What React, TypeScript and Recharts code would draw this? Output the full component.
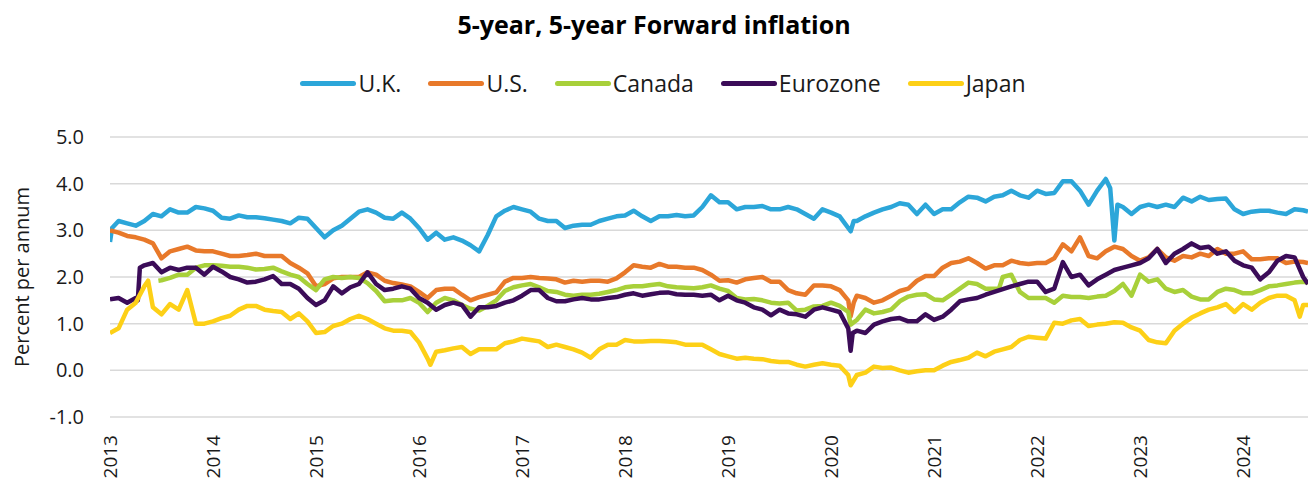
import { CartesianGrid, Line, LineChart, XAxis, YAxis } from "recharts";

const UK_COLOR = "#2ca6d9";
const US_COLOR = "#e8792a";
const CA_COLOR = "#a8d03a";
const EZ_COLOR = "#3b0c58";
const JP_COLOR = "#fdd017";
const GRID = "#d9d9d9";
const TEXT = "#1a1a1a";
const FONT = "'Open Sans', 'Noto Sans', sans-serif";

// monthly observations, Jan 2013 .. Aug 2024, then the last print
const END_DATE = 2024.63;
const YEAR_TICKS = [2013, 2014, 2015, 2016, 2017, 2018, 2019, 2020, 2021, 2022, 2023, 2024];
const Y_TICKS = [-1, 0, 1, 2, 3, 4, 5];

const UK = [
  2.75, 3.2, 3.15, 3.1, 3.2, 3.35, 3.3, 3.45, 3.38, 3.38, 3.5, 3.47,
  3.42, 3.27, 3.25, 3.32, 3.28, 3.28, 3.26, 3.23, 3.2, 3.15, 3.27, 3.25,
  3.05, 2.85, 3.0, 3.1, 3.25, 3.4, 3.45, 3.38, 3.27, 3.25, 3.38, 3.25,
  3.05, 2.8, 2.95, 2.8, 2.85, 2.78, 2.68, 2.55, 2.9, 3.3, 3.42, 3.5,
  3.45, 3.4, 3.25, 3.2, 3.2, 3.05, 3.1, 3.12, 3.12, 3.2, 3.25, 3.3,
  3.32, 3.42, 3.3, 3.2, 3.3, 3.3, 3.33, 3.3, 3.32, 3.5, 3.75, 3.6,
  3.6, 3.45, 3.5, 3.5, 3.52, 3.45, 3.45, 3.5, 3.45, 3.35, 3.25, 3.45,
  3.38, 3.3, 3.05, 3.2, 3.3, 3.38, 3.45, 3.5, 3.58, 3.55, 3.35, 3.55,
  3.35, 3.45, 3.45, 3.6, 3.72, 3.7, 3.62, 3.72, 3.75, 3.85, 3.75, 3.7,
  3.85, 3.78, 3.8, 4.05, 4.05, 3.85, 3.55, 3.85, 4.1, 2.78, 3.5, 3.35,
  3.5, 3.55, 3.5, 3.55, 3.5, 3.7, 3.62, 3.72, 3.65, 3.67, 3.68, 3.45,
  3.35, 3.4, 3.42, 3.42, 3.38, 3.35, 3.45, 3.43, 3.4,
];
const UK_EXTRA: [number, number][] = [
  [2013.02, 3.05], [2020.19, 2.98], [2020.22, 3.2], [2022.71, 3.9], [2022.78, 3.55],
];

const US = [
  3.0, 2.95, 2.88, 2.85, 2.8, 2.72, 2.4, 2.55, 2.6, 2.65, 2.57, 2.55,
  2.55, 2.5, 2.45, 2.45, 2.47, 2.5, 2.45, 2.45, 2.45, 2.3, 2.2, 2.08,
  1.8, 1.85, 1.97, 2.0, 2.0, 2.0, 2.1, 2.05, 1.92, 1.87, 1.84, 1.8,
  1.68, 1.55, 1.72, 1.75, 1.75, 1.62, 1.5, 1.57, 1.62, 1.67, 1.9, 1.98,
  1.98, 2.0, 1.98, 1.97, 1.95, 1.88, 1.92, 1.9, 1.92, 1.92, 1.9, 1.97,
  2.1, 2.25, 2.22, 2.2, 2.28, 2.22, 2.22, 2.2, 2.2, 2.15, 2.05, 1.92,
  1.93, 1.88, 1.95, 1.98, 2.0, 1.9, 1.9, 1.72, 1.65, 1.62, 1.82, 1.82,
  1.8, 1.72, 1.5, 1.6, 1.55, 1.45, 1.5, 1.6, 1.7, 1.75, 1.92, 2.02,
  2.02, 2.2, 2.3, 2.33, 2.4, 2.3, 2.18, 2.25, 2.25, 2.35, 2.3, 2.28,
  2.3, 2.3, 2.4, 2.7, 2.55, 2.85, 2.45, 2.4, 2.55, 2.65, 2.6, 2.45,
  2.35, 2.42, 2.6, 2.42, 2.35, 2.45, 2.42, 2.5, 2.45, 2.6, 2.5, 2.5,
  2.55, 2.38, 2.38, 2.4, 2.4, 2.3, 2.33, 2.32, 2.3,
];
const US_EXTRA: [number, number][] = [[2020.19, 1.16], [2020.22, 1.45]];

const CANADA = [
  null, null, null, null, null, null, 1.93, 1.98, 2.05, 2.05, 2.2, 2.25,
  2.25, 2.24, 2.22, 2.22, 2.2, 2.16, 2.17, 2.2, 2.12, 2.05, 2.0, 1.85,
  1.72, 1.95, 2.0, 1.98, 2.0, 1.98, 1.87, 1.7, 1.48, 1.5, 1.5, 1.55,
  1.45, 1.25, 1.45, 1.55, 1.5, 1.4, 1.32, 1.28, 1.38, 1.5, 1.7, 1.78,
  1.82, 1.85, 1.78, 1.7, 1.68, 1.62, 1.6, 1.62, 1.62, 1.64, 1.68, 1.72,
  1.78, 1.8, 1.8, 1.83, 1.85, 1.8, 1.78, 1.77, 1.76, 1.78, 1.82, 1.75,
  1.7, 1.55, 1.52, 1.53, 1.5, 1.45, 1.43, 1.45, 1.28, 1.3, 1.37, 1.38,
  1.45, 1.38, 1.25, 1.08, 1.3, 1.22, 1.25, 1.3, 1.48, 1.58, 1.62, 1.63,
  1.52, 1.5, 1.62, 1.75, 1.88, 1.85, 1.75, 1.75, 2.0, 2.05, 1.68, 1.55,
  1.55, 1.55, 1.45, 1.6, 1.57, 1.57, 1.55, 1.58, 1.6, 1.7, 1.85, 1.6,
  2.05, 1.9, 1.95, 1.75, 1.68, 1.72, 1.58, 1.52, 1.52, 1.68, 1.75, 1.72,
  1.65, 1.65, 1.72, 1.8, 1.82, 1.85, 1.88, 1.9, 1.88,
];
const CANADA_EXTRA: [number, number][] = [[2013.47, 1.92], [2020.19, 0.98], [2021.63, 1.75]];

const EUROZONE = [
  1.52, 1.55, 1.45, 1.55, 2.25, 2.3, 2.1, 2.2, 2.15, 2.2, 2.2, 2.05,
  2.22, 2.12, 2.0, 1.95, 1.88, 1.9, 1.95, 2.02, 1.85, 1.85, 1.75, 1.55,
  1.4, 1.5, 1.8, 1.65, 1.78, 1.85, 2.1, 1.85, 1.72, 1.75, 1.8, 1.75,
  1.55, 1.45, 1.3, 1.4, 1.45, 1.4, 1.15, 1.35, 1.35, 1.38, 1.45, 1.5,
  1.6, 1.72, 1.72, 1.55, 1.48, 1.48, 1.52, 1.55, 1.52, 1.52, 1.55, 1.57,
  1.62, 1.65, 1.6, 1.63, 1.66, 1.67, 1.63, 1.62, 1.62, 1.6, 1.62, 1.5,
  1.6, 1.5, 1.45, 1.35, 1.3, 1.18, 1.3, 1.22, 1.2, 1.15, 1.3, 1.35,
  1.3, 1.25, 0.9, 0.85, 0.8, 0.98, 1.05, 1.1, 1.12, 1.05, 1.05, 1.2,
  1.08, 1.15, 1.3, 1.48, 1.52, 1.55, 1.62, 1.68, 1.74, 1.8, 1.85, 1.9,
  1.9, 1.68, 1.75, 2.32, 2.0, 2.05, 1.82, 1.95, 2.05, 2.15, 2.2, 2.25,
  2.3, 2.4, 2.6, 2.3, 2.5, 2.6, 2.72, 2.62, 2.65, 2.5, 2.55, 2.35,
  2.25, 2.2, 1.95, 2.1, 2.35, 2.45, 2.42, 2.0, 1.85,
];
const EUROZONE_EXTRA: [number, number][] = [
  [2013.27, 1.5], [2013.29, 2.2], [2020.19, 0.42], [2020.21, 0.8],
];

const JAPAN = [
  0.8, 0.9, 1.3, 1.45, 1.8, 1.35, 1.2, 1.42, 1.3, 1.72, 1.0, 1.0,
  1.05, 1.12, 1.17, 1.3, 1.38, 1.38, 1.3, 1.27, 1.25, 1.1, 1.22, 1.05,
  0.8, 0.82, 0.95, 1.0, 1.1, 1.17, 1.1, 1.0, 0.9, 0.85, 0.85, 0.82,
  0.6, 0.25, 0.4, 0.43, 0.47, 0.5, 0.35, 0.45, 0.45, 0.45, 0.58, 0.62,
  0.68, 0.65, 0.62, 0.5, 0.55, 0.5, 0.45, 0.38, 0.27, 0.45, 0.55, 0.55,
  0.65, 0.62, 0.62, 0.63, 0.63, 0.62, 0.6, 0.55, 0.55, 0.55, 0.45, 0.35,
  0.3, 0.25, 0.27, 0.25, 0.24, 0.2, 0.18, 0.18, 0.12, 0.08, 0.12, 0.15,
  0.12, 0.1, -0.1, -0.1, -0.05, 0.08, 0.05, 0.06, 0.0, -0.05, -0.02, 0.0,
  0.0, 0.1, 0.18, 0.22, 0.27, 0.38, 0.3, 0.4, 0.45, 0.5, 0.65, 0.72,
  0.7, 0.68, 1.02, 1.0, 1.07, 1.1, 0.95, 0.98, 1.0, 1.03, 1.02, 0.92,
  0.85, 0.65, 0.6, 0.58, 0.85, 1.0, 1.13, 1.22, 1.3, 1.35, 1.42, 1.25,
  1.42, 1.3, 1.45, 1.55, 1.6, 1.6, 1.5, 1.4, 1.4,
];
const JAPAN_EXTRA: [number, number][] = [
  [2013.37, 1.92], [2016.11, 0.12], [2020.19, -0.32], [2024.55, 1.15],
];

function dateAt(i: number, n: number) {
  return i === n - 1 ? END_DATE : 2013 + i / 12;
}

function toSeries(values: (number | null)[], extra: [number, number][]) {
  const rows = values
    .map((v, i) => ({ t: dateAt(i, values.length), v }))
    .filter((r) => r.v !== null) as { t: number; v: number }[];
  extra.forEach(([t, v]) => rows.push({ t, v }));
  return rows.sort((a, b) => a.t - b.t);
}

const SERIES = [
  { name: "U.K.", color: UK_COLOR, data: toSeries(UK, UK_EXTRA) },
  { name: "U.S.", color: US_COLOR, data: toSeries(US, US_EXTRA) },
  { name: "Canada", color: CA_COLOR, data: toSeries(CANADA, CANADA_EXTRA) },
  { name: "Eurozone", color: EZ_COLOR, data: toSeries(EUROZONE, EUROZONE_EXTRA) },
  { name: "Japan", color: JP_COLOR, data: toSeries(JAPAN, JAPAN_EXTRA) },
];

function YearTick({ x, y, payload }: any) {
  return (
    <text
      transform={`translate(${x},${y + 10}) rotate(-90)`}
      textAnchor="end"
      dy="0.36em"
      fill={TEXT}
      fontSize={19}
      fontFamily={FONT}
    >
      {payload.value}
    </text>
  );
}

export default function App() {
  return (
    <div style={{ position: "absolute", left: 0, top: 0, width: 1308, height: 486, background: "#fff" }}>
      <div
        style={{
          position: "absolute",
          top: 7,
          left: 0,
          width: 1308,
          textAlign: "center",
          fontFamily: FONT,
          fontWeight: 700,
          fontSize: 25,
          color: "#000",
        }}
      >
        5-year, 5-year Forward inflation
      </div>
      <div
        style={{
          position: "absolute",
          top: 67,
          left: 9,
          width: 1308,
          display: "flex",
          justifyContent: "center",
          gap: 27,
          fontFamily: FONT,
          fontSize: 23,
          color: TEXT,
        }}
      >
        {SERIES.map((s) => (
          <div key={s.name} style={{ display: "flex", alignItems: "center" }}>
            <span
              style={{
                display: "inline-block",
                width: 56,
                height: 5,
                borderRadius: 3,
                background: s.color,
                marginRight: 2,
              }}
            />
            <span>{s.name}</span>
          </div>
        ))}
      </div>
      <LineChart width={1308} height={486} margin={{ top: 137, right: 0, bottom: 0, left: 0 }}>
        <CartesianGrid stroke={GRID} strokeWidth={1.5} vertical={false} />
        <XAxis
          dataKey="t"
          type="number"
          domain={[2013, END_DATE]}
          ticks={YEAR_TICKS}
          allowDataOverflow
          axisLine={false}
          tickLine={false}
          height={69}
          interval={0}
          tick={<YearTick />}
        />
        <YAxis
          dataKey="v"
          type="number"
          domain={[-1, 5]}
          ticks={Y_TICKS}
          axisLine={false}
          tickLine={false}
          tickSize={0}
          tickMargin={26}
          width={110}
          tickFormatter={(v: number) => v.toFixed(1)}
          tick={{ fill: TEXT, fontSize: 20, fontFamily: FONT }}
          label={{
            value: "Percent per annum",
            angle: -90,
            position: "insideLeft",
            offset: 22,
            style: { textAnchor: "middle", fill: TEXT, fontSize: 20, fontFamily: FONT },
          }}
        />
        {SERIES.map((s) => (
          <Line
            key={s.name}
            data={s.data}
            dataKey="v"
            name={s.name}
            type="linear"
            stroke={s.color}
            strokeWidth={4.5}
            strokeLinejoin="round"
            dot={false}
            activeDot={false}
            isAnimationActive={false}
          />
        ))}
      </LineChart>
    </div>
  );
}
